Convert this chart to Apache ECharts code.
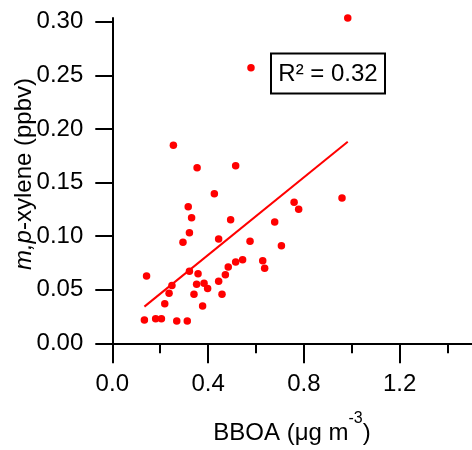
<!DOCTYPE html>
<html>
<head>
<meta charset="utf-8">
<script src="https://cdn.jsdelivr.net/npm/echarts@6/dist/echarts.min.js"></script>
<style>html,body{margin:0;padding:0;background:#fff;}#c{width:472px;height:450px;}</style>
</head>
<body>
<div id="c"></div>
<script>
var bboa = [0.983, 0.579, 0.255, 0.354, 0.515, 0.426, 0.959, 0.759, 0.778, 0.317, 0.331, 0.494, 0.322, 0.678, 0.444, 0.295, 0.575, 0.706, 0.544, 0.515, 0.628, 0.636, 0.484, 0.143, 0.322, 0.358, 0.472, 0.444, 0.352, 0.383, 0.398, 0.249, 0.237, 0.341, 0.458, 0.219, 0.377, 0.134, 0.181, 0.205, 0.269, 0.313];
var xylene = [0.3035, 0.257, 0.1847, 0.1638, 0.1657, 0.1396, 0.1355, 0.1315, 0.125, 0.1274, 0.1172, 0.1153, 0.1032, 0.1132, 0.0973, 0.0942, 0.0951, 0.0911, 0.078, 0.0758, 0.0771, 0.07, 0.0712, 0.0628, 0.0671, 0.0649, 0.064, 0.0578, 0.055, 0.056, 0.051, 0.0538, 0.0466, 0.0457, 0.0457, 0.037, 0.0348, 0.0217, 0.023, 0.023, 0.0208, 0.0208];
var fitX = [0.134, 0.983];
var fitY = [0.0342, 0.188];
var xTicks = [0, 0.4, 0.8, 1.2];
var yTicks = [0, 0.05, 0.10, 0.15, 0.20, 0.25, 0.30];
var xTitle = '{n|BBOA (μg m}{sup|-3}{n|)}';
var yTitle = '{i|m,p}-xylene (ppbv)';
var r2Text = 'R² = 0.32';

var pts = bboa.map(function (v, i) { return [v, xylene[i]]; });
var fit = fitX.map(function (v, i) { return [v, fitY[i]]; });
var FONT = 'Liberation Sans, Arial, sans-serif';

var chart = echarts.init(document.getElementById('c'), null, {renderer: 'canvas'});
chart.setOption({
  backgroundColor: '#fff',
  animation: false,
  grid: [
    {left: 112.3, right: 0.4, top: 17.9, bottom: 106.7, outerBoundsMode: 'none', containLabel: false},
    {left: 112.3, width: 383.2, top: 21.7, bottom: 106.7, outerBoundsMode: 'none', containLabel: false}
  ],
  xAxis: [
    {gridIndex: 0, type: 'value', min: 0, max: 1.5,
     axisLine: {show: true, onZero: false, lineStyle: {color: '#000', width: 2}},
     axisTick: {show: false}, axisLabel: {show: false}, splitLine: {show: false}},
    {gridIndex: 1, type: 'value', min: 0, max: 1.6, interval: 0.4,
     axisLine: {show: false, onZero: false},
     axisTick: {show: true, length: 20, lineStyle: {color: '#000', width: 2}},
     minorTick: {show: true, splitNumber: 2, length: 10, lineStyle: {color: '#000', width: 2}},
     axisLabel: {show: true, margin: 29, color: '#000', fontSize: 24, fontFamily: FONT,
       formatter: function (v) { return xTicks.some(function (t) { return Math.abs(t - v) < 1e-9; }) ? v.toFixed(1) : ''; }},
     splitLine: {show: false}}
  ],
  yAxis: [
    {gridIndex: 0, type: 'value', min: 0, max: 0.3035,
     axisLine: {show: true, onZero: false, lineStyle: {color: '#000', width: 2}},
     axisTick: {show: false}, axisLabel: {show: false}, splitLine: {show: false}},
    {gridIndex: 1, type: 'value', min: 0, max: 0.30, interval: 0.05,
     axisLine: {show: false, onZero: false},
     axisTick: {show: true, length: 17, lineStyle: {color: '#000', width: 2}},
     axisLabel: {show: true, margin: 29, color: '#000', fontSize: 24, fontFamily: FONT,
       formatter: function (v) { return yTicks.some(function (t) { return Math.abs(t - v) < 1e-9; }) ? v.toFixed(2) : ''; }},
     splitLine: {show: false}}
  ],
  series: [
    {type: 'line', xAxisIndex: 0, yAxisIndex: 0, data: fit, showSymbol: false, symbol: 'none',
     lineStyle: {color: '#ff0000', width: 2}, silent: true, clip: false, z: 2},
    {type: 'scatter', xAxisIndex: 0, yAxisIndex: 0, data: pts, symbol: 'circle', symbolSize: 7.5,
     itemStyle: {color: '#ff0000', opacity: 1}, clip: false, z: 3}
  ],
  graphic: [
    {type: 'rect', shape: {x: 271, y: 53.5, width: 114, height: 40},
     style: {fill: '#fff', stroke: '#000', lineWidth: 2}, z: 10},
    {type: 'text', x: 328, y: 74, z: 11,
     style: {text: r2Text, fill: '#000', font: '24px ' + FONT, align: 'center', verticalAlign: 'middle'}},
    {type: 'text', x: 292, y: 428, z: 11,
     style: {text: xTitle, fill: '#000', fontSize: 24, fontFamily: FONT, align: 'center', verticalAlign: 'middle',
       rich: {
         n: {fontSize: 24, fontFamily: FONT, fill: '#000', lineHeight: 34, verticalAlign: 'bottom'},
         sup: {fontSize: 16, fontFamily: FONT, fill: '#000', lineHeight: 16, verticalAlign: 'top'}
       }}},
    {type: 'text', x: 24, y: 174, rotation: Math.PI / 2, z: 11,
     style: {text: yTitle, fill: '#000', fontSize: 24, fontFamily: FONT, align: 'center', verticalAlign: 'middle',
       rich: {i: {fontStyle: 'italic', fontSize: 24, fontFamily: FONT, fill: '#000'}}}}
  ]
});
</script>
</body>
</html>
